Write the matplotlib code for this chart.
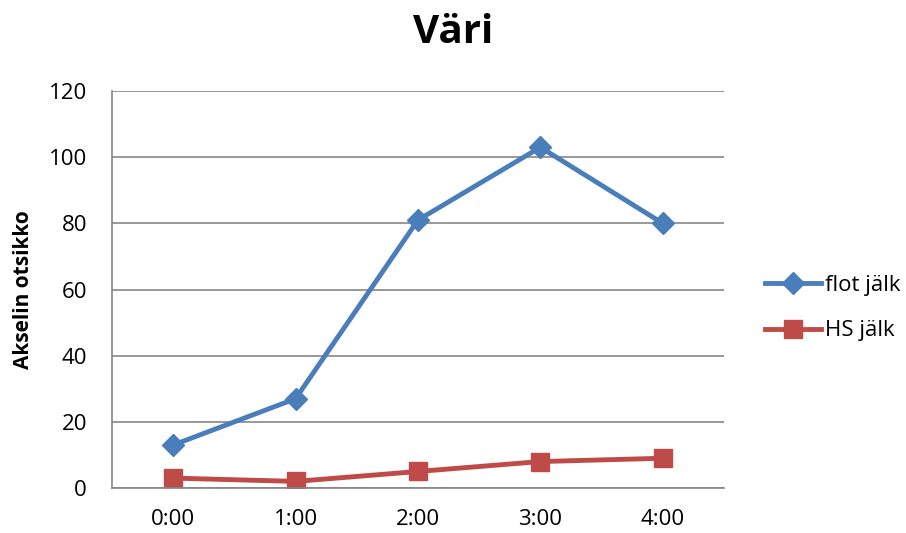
import matplotlib
matplotlib.use('Agg')
import matplotlib.pyplot as plt

categories = ['0:00', '1:00', '2:00', '3:00', '4:00']
flot = [13, 27, 81, 103, 80]
hs = [3, 2, 5, 8, 9]

plt.rcParams['font.family'] = ['Open Sans', 'DejaVu Sans']

fig = plt.figure(figsize=(9.06, 5.33), dpi=100)
ax = fig.add_axes([0.1236, 0.0844, 0.6755, 0.7448])

x = range(len(categories))
ax.plot(x, flot, color='#4A7EBB', lw=3.5, marker='D', ms=11, label='flot jälk')
ax.plot(x, hs, color='#BE4B48', lw=3.5, marker='s', ms=13, label='HS jälk')

ax.set_xlim(-0.5, 4.5)
ax.set_ylim(0, 120)
ax.set_yticks(range(0, 121, 20))
ax.set_xticks(list(x))
ax.set_xticklabels(categories)
ax.tick_params(axis='both', labelsize=16, length=0, colors='#808080', labelcolor='black')
ax.tick_params(axis='x', pad=15)
ax.tick_params(axis='y', pad=18)
ax.grid(axis='y', color='#868686', lw=1.2)
ax.set_axisbelow(True)
for s in ['top', 'right']:
    ax.spines[s].set_visible(False)
for s in ['left', 'bottom']:
    ax.spines[s].set_color('#868686')
    ax.spines[s].set_linewidth(1.2)

ax.set_ylabel('Akselin otsikko', fontsize=15, fontweight='bold')
ax.yaxis.set_label_coords(-0.128, 0.5)
fig.suptitle('Väri', fontsize=29, fontweight='bold', x=0.5, y=0.975)

ax.legend(loc='center left', bbox_to_anchor=(1.067, 0.453), frameon=False,
          borderaxespad=0, borderpad=0,
          fontsize=16, handlelength=2.5, labelspacing=1.1, handletextpad=0.2)

fig.savefig('out.png', dpi=100)
